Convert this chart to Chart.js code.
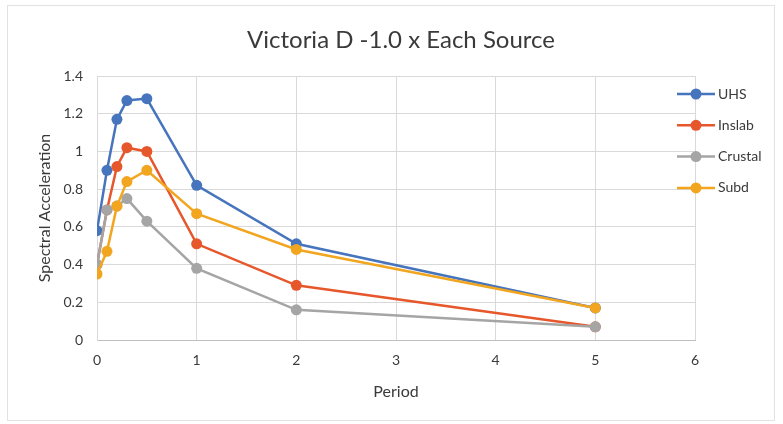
<!DOCTYPE html>
<html>
<head>
<meta charset="utf-8">
<script src="https://cdn.jsdelivr.net/npm/chart.js@4.4.1/dist/chart.umd.min.js"></script>
<style>
  html, body { margin: 0; padding: 0; background: #ffffff; }
  #wrap { width: 783px; height: 424px; position: relative; }
</style>
</head>
<body>
<div id="wrap"><canvas id="c" width="783" height="424"></canvas></div>
<script>
// Periods (s) and spectral accelerations per source
const periods = [0, 0.1, 0.2, 0.3, 0.5, 1, 2, 5];
const uhs     = [0.58, 0.90, 1.17, 1.27, 1.28, 0.82, 0.51, 0.17];
const inslab  = [0.40, 0.69, 0.92, 1.02, 1.00, 0.51, 0.29, 0.07];
const crustal = [0.40, 0.69, 0.71, 0.75, 0.63, 0.38, 0.16, 0.07];
const subd    = [0.35, 0.47, 0.71, 0.84, 0.90, 0.67, 0.48, 0.17];
const seriesNames = ['UHS', 'Inslab', 'Crustal', 'Subd'];
const xTicks = [0, 1, 2, 3, 4, 5, 6];
const yTicks = [0, 0.2, 0.4, 0.6, 0.8, 1, 1.2, 1.4];

const colors = ['#4674BD', '#E6572B', '#A5A5A5', '#F2A51E'];
const FONT = 'Lato, "Open Sans", sans-serif';
const TEXT = '#3a3a3a';

function pts(vals) { return periods.map((p, i) => ({ x: p, y: vals[i] })); }

const allSeries = [uhs, inslab, crustal, subd];
// later series are painted over earlier ones
const datasets = allSeries.map((vals, i) => ({
  label: seriesNames[i],
  data: pts(vals),
  order: allSeries.length - 1 - i,
  borderColor: colors[i],
  backgroundColor: colors[i],
  borderWidth: 2.5,
  pointRadius: 5.5,
  pointHoverRadius: 5.5,
  pointBorderWidth: 0,
  tension: 0
}));

// Title, outer frame and line-style legend
const decorations = {
  id: 'decorations',
  beforeDraw(chart) {
    const ctx = chart.ctx;
    ctx.save();
    ctx.strokeStyle = '#e2e2e2';
    ctx.lineWidth = 1;
    ctx.strokeRect(7.5, 5.5, 767, 415);
    ctx.restore();
  },
  afterDraw(chart) {
    const ctx = chart.ctx;
    ctx.save();
    ctx.fillStyle = TEXT;
    ctx.font = '24px ' + FONT;
    ctx.textAlign = 'center';
    ctx.textBaseline = 'middle';
    ctx.fillText('Victoria D -1.0 x Each Source', 401, 40);

    const x0 = 677, x1 = 715, yStart = 94, step = 31.3;
    seriesNames.forEach((name, i) => {
      const y = yStart + i * step;
      ctx.strokeStyle = colors[i];
      ctx.lineWidth = 2.5;
      ctx.beginPath();
      ctx.moveTo(x0, y);
      ctx.lineTo(x1, y);
      ctx.stroke();
      ctx.fillStyle = colors[i];
      ctx.beginPath();
      ctx.arc((x0 + x1) / 2, y, 5.5, 0, Math.PI * 2);
      ctx.fill();
      ctx.fillStyle = TEXT;
      ctx.font = '14px ' + FONT;
      ctx.textAlign = 'left';
      ctx.textBaseline = 'middle';
      ctx.fillText(name, x1 + 3, y);
    });
    ctx.restore();
  }
};

new Chart(document.getElementById('c'), {
  type: 'line',
  data: { datasets },
  plugins: [decorations],
  options: {
    responsive: false,
    animation: false,
    devicePixelRatio: 1,
    layout: { padding: { left: 31, right: 88, top: 76, bottom: 19 } },
    plugins: {
      legend: { display: false },
      title: { display: false },
      tooltip: { enabled: false }
    },
    scales: {
      x: {
        type: 'linear',
        min: 0, max: 6,
        afterBuildTicks(scale) { scale.ticks = xTicks.map(v => ({ value: v })); },
        afterFit(scale) { scale.height = 65; },
        grid: { color: '#d9d9d9', drawTicks: false },
        border: { color: '#bfbfbf' },
        ticks: { color: TEXT, font: { family: FONT, size: 14 }, padding: 12 },
        title: { display: true, text: 'Period', color: TEXT, font: { family: FONT, size: 16 }, padding: { top: 4, bottom: 4 } }
      },
      y: {
        min: 0, max: 1.4,
        afterBuildTicks(scale) { scale.ticks = yTicks.map(v => ({ value: v })); },
        afterFit(scale) { scale.width = 66; },
        grid: { color: '#d9d9d9', drawTicks: false },
        border: { color: '#d9d9d9' },
        ticks: { color: TEXT, font: { family: FONT, size: 14 }, padding: 14,
                 callback: v => String(Math.round(v * 10) / 10) },
        title: { display: true, text: 'Spectral Acceleration', color: TEXT, font: { family: FONT, size: 16 }, padding: { top: 4, bottom: 4 } }
      }
    }
  }
});
</script>
</body>
</html>
